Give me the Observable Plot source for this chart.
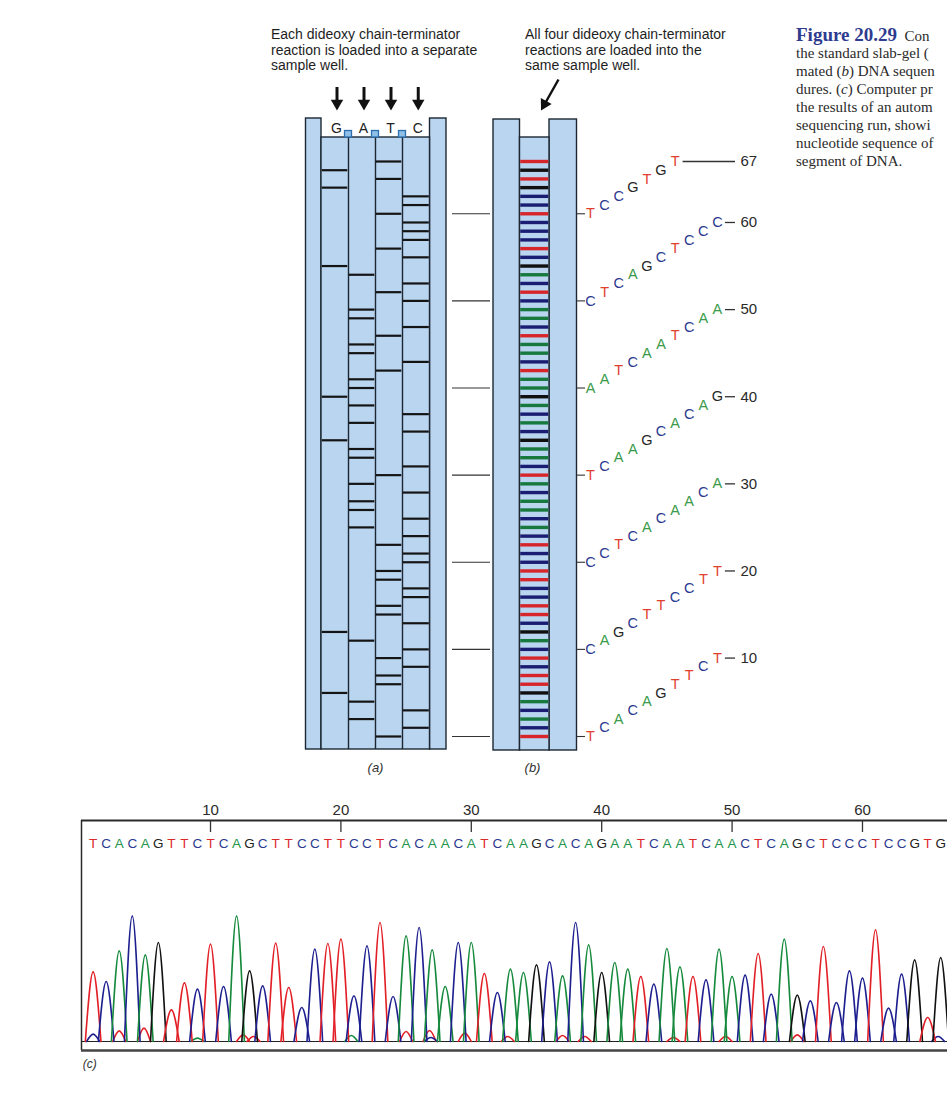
<!DOCTYPE html>
<html>
<head>
<meta charset="utf-8">
<script src="https://cdn.jsdelivr.net/npm/d3@7"></script>
<script src="https://cdn.jsdelivr.net/npm/@observablehq/plot@0.6"></script>
<style>
  html, body { margin: 0; padding: 0; background: #fff; }
  #page { position: relative; width: 947px; height: 1100px; overflow: hidden; background: #fff; }
  #gel, #chrom { position: absolute; left: 0; }
  #gel { top: 0; }
  #chrom { top: 790px; }
  .note { position: absolute; font-family: "Liberation Sans", Arial, sans-serif; font-size: 14px; line-height: 15.5px; color: #1e1e1e; white-space: nowrap; z-index: 3; }
  .cap { position: absolute; left: 796px; top: 26px; font-family: "Liberation Serif", "DejaVu Serif", serif; font-size: 15px; color: #2a2a2a; white-space: nowrap; z-index: 3; }
  .cap div { height: 18px; line-height: 18px; }
  .cap .fig { font-weight: bold; color: #2e3b8f; font-size: 19px; }
</style>
</head>
<body>
<div id="page">
  <div id="gel"></div>
  <div id="chrom"></div>
  <div class="note" style="left:271px; top:27px;">Each dideoxy chain-terminator<br>reaction is loaded into a separate<br>sample well.</div>
  <div class="note" style="left:525px; top:27px;">All four dideoxy chain-terminator<br>reactions are loaded into the<br>same sample well.</div>
  <div class="cap">
    <div><span class="fig">Figure 20.29</span>&nbsp;&nbsp;Con</div>
    <div>the standard slab-gel (</div>
    <div>mated (<i>b</i>) DNA sequen</div>
    <div>dures. (<i>c</i>) Computer pr</div>
    <div>the results of an autom</div>
    <div>sequencing run, showi</div>
    <div>nucleotide sequence of</div>
    <div>segment of DNA.</div>
  </div>
</div>
<script>
// ================= DATA =================
// nucleotide sequence read from gel (b), position 1 (bottom) to 67 (top)
const sequence = "TCACAGTTCTCAGCTTCCTTCCTCACAACATCAAGCACAGAATCAATCAACTCAGCTCCCTCCGTGT".split("");
// lanes of the slab gel (a)
const laneOrder = ["G", "A", "T", "C"];
// first and last position of each slanted letter row
const rowStarts = [1, 11, 21, 31, 41, 51, 61];
const rowEnds = [10, 20, 30, 40, 50, 60, 67];
// chromatogram (c)
const chromTicks = [10, 20, 30, 40, 50, 60];
const chromCalls = "TCACAGTTCTCAGCTTCCTTCCTCACAACATCAAGCACAGAATCAATCAACTCAGCTCCCTCCGTG".split("");
const peakHeights = [
  209, 180, 272, 377, 260, 297,  95, 176, 157, 292,
  165, 377, 212, 167, 295, 162, 102, 277, 294, 307,
  137, 287, 357, 135, 317, 342, 275, 165, 297, 297,
  204, 147, 217, 207, 230, 239, 197, 357, 290, 207,
  237, 217, 195, 172, 279, 224, 195, 185, 277, 195,
  199, 264, 142, 307, 139, 122, 285, 117, 212, 190,
  335, 100, 202, 245,  72, 252
];
// small background peaks
const minorBases     = ["C", "T", "T", "A", "T", "T", "A", "T", "T", "C", "T", "T", "T", "T", "T", "T", "T", "C"];
const minorPositions = [1.0, 3.0, 4.9, 9.0, 12.5, 13.3, 20.8, 25.0, 26.8, 26.9, 29.5, 32.8, 37.0, 38.7, 45.5, 49.5, 55.0, 65.8];
const minorHeights   = [22, 32, 40, 10, 20, 15, 18, 30, 33, 12, 25, 15, 18, 15, 12, 15, 20, 15];

// ================= STYLES / LAYOUT =================
const SANS = "'Liberation Sans', Arial, sans-serif";
const GEL_FILL = "#b9d5ef";
const FRAME = "#1c2733";
const BAND_B = {T: "#d6262b", C: "#1b1d72", A: "#17793d", G: "#101010"};
const LETTER = {T: "#e2402e", C: "#2b3990", A: "#3a9a4a", G: "#262626"};
const TRACE = {T: "#e21f26", C: "#1d1f8f", A: "#15893c", G: "#111111"};
const CALL = {T: "#dc2a2c", C: "#2b3990", A: "#23944a", G: "#222222"};

// gel y: nucleotide position -> pixel
const Y_POS1 = 736, Y_POS67 = 161;
const PXU = (Y_POS1 - Y_POS67) / 66;
const py = px => 1 + (Y_POS1 - px) / PXU;

const GA = {outerL: 305.5, spL: 321, seps: [348, 375, 402], spR: 429.5, outerR: 446, top: 118, laneTop: 137, bottom: 749};
const GB = {outerL: 493, spL: 519.5, spR: 549, outerR: 576.5, top: 119, laneTop: 137, bottom: 750};
const laneEdges = {G: [321, 348], A: [348, 375], T: [375, 402], C: [402, 429.5]};
const LETTER_X0 = 590, LETTER_DX = 14.1, NUM_X = 740;

const seqRows = sequence.map((b, i) => ({base: b, pos: i + 1, k: i % 10}));
const frameRects = [
  {x1: GA.outerL, x2: GA.spL, y1: py(GA.top), y2: py(GA.bottom)},
  {x1: GA.spR, x2: GA.outerR, y1: py(GA.top), y2: py(GA.bottom)},
  {x1: GA.spL, x2: GA.spR, y1: py(GA.laneTop), y2: py(GA.bottom)},
  {x1: GB.outerL, x2: GB.spL, y1: py(GB.top), y2: py(GB.bottom)},
  {x1: GB.spR, x2: GB.outerR, y1: py(GB.top), y2: py(GB.bottom)},
  {x1: GB.spL, x2: GB.spR, y1: py(GB.laneTop), y2: py(GB.bottom)}
];
const laneCenter = b => (laneEdges[b][0] + laneEdges[b][1]) / 2;
const arrowB = {x1: 558, y1: py(79), x2: 544.5, y2: py(103), hx: 544, hy: py(103.7)};

const gelPlot = Plot.plot({
  width: 947, height: 790, margin: 0,
  x: {type: "linear", domain: [0, 947], range: [0, 947], axis: null},
  y: {type: "linear", domain: [1, 67], range: [Y_POS1, Y_POS67], axis: null},
  color: {type: "identity"},
  style: {background: "transparent", overflow: "visible"},
  marks: [
    Plot.rect(frameRects, {x1: "x1", x2: "x2", y1: "y1", y2: "y2", fill: GEL_FILL, stroke: FRAME, strokeWidth: 1.4}),
    Plot.ruleX(GA.seps, {x: d => d, y1: py(GA.laneTop), y2: py(GA.bottom), stroke: FRAME, strokeWidth: 1.4}),
    Plot.rect(GA.seps, {x1: d => d - 3.5, x2: d => d + 3.5, y1: py(137), y2: py(130.5), fill: "#8fc0e8", stroke: "#2d6fae", strokeWidth: 1.3}),
    // gel (a) bands
    Plot.ruleY(seqRows, {y: "pos", x1: d => laneEdges[d.base][0] + 0.7, x2: d => laneEdges[d.base][1] - 0.7, stroke: "#141414", strokeWidth: 2.2}),
    // gel (b) bands
    Plot.ruleY(seqRows, {y: "pos", x1: GB.spL + 0.7, x2: GB.spR - 0.7, stroke: d => BAND_B[d.base], strokeWidth: 3.4}),
    // ticks
    Plot.ruleY(rowStarts, {y: d => d, x1: 452, x2: 490, stroke: "#333", strokeWidth: 1.1}),
    Plot.ruleY(rowStarts, {y: d => d, x1: GB.outerR, x2: 585, stroke: "#333", strokeWidth: 1.1}),
    // slanted sequence letters
    Plot.text(seqRows, {x: d => LETTER_X0 + LETTER_DX * d.k, y: "pos", text: "base", fill: d => LETTER[d.base],
      fontSize: 14.5, fontFamily: SANS, textAnchor: "middle", lineAnchor: "middle"}),
    Plot.ruleY(rowEnds, {y: d => d, x1: d => LETTER_X0 + LETTER_DX * ((d - 1) % 10) + 8, x2: NUM_X - 5, stroke: "#333", strokeWidth: 1.3}),
    Plot.text(rowEnds, {x: NUM_X, y: d => d, text: d => String(d), fill: "#2a2a2a", fontSize: 15, fontFamily: SANS, textAnchor: "start", lineAnchor: "middle"}),
    // lane labels
    Plot.text(laneOrder, {x: b => laneCenter(b) + 1.5, y: py(128), text: d => d, fill: "#222", fontSize: 14, fontFamily: SANS, lineAnchor: "middle"}),
    // arrows into wells (a)
    Plot.ruleX(laneOrder, {x: b => laneCenter(b) + 2, y1: py(87), y2: py(103), stroke: "#111", strokeWidth: 3}),
    Plot.dot(laneOrder, {x: b => laneCenter(b) + 2, y: py(102.8), symbol: "triangle", r: 4.6, fill: "#111", rotate: 180}),
    // arrow into well (b)
    Plot.link([arrowB], {x1: "x1", y1: "y1", x2: "x2", y2: "y2", stroke: "#111", strokeWidth: 2.4}),
    Plot.dot([arrowB], {x: "hx", y: "hy", symbol: "triangle", r: 4.6, fill: "#111", rotate: 209}),
    // panel labels
    Plot.text(["(a)", "(b)"], {x: (d, i) => [375, 532][i], y: py(767), text: d => d, fill: "#333", fontSize: 13, fontStyle: "italic", fontFamily: SANS, lineAnchor: "middle"})
  ]
});
document.getElementById("gel").appendChild(gelPlot);

// ================= CHROMATOGRAM =================
const CHROM_TOP = 790;            // svg top on page
const BASELINE = 1041;            // page px of zero signal
const cy = px => (BASELINE - px) * 3;   // page px -> signal units (3 units per px)
const XD = [0.107, 66.52];
const HALF = 0.6, HALF_MINOR = 0.5;

const peaks = chromCalls.map((b, i) => ({base: b, pos: i + 1, h: peakHeights[i], w: HALF}));
const minors = minorBases.map((b, i) => ({base: b, pos: minorPositions[i], h: minorHeights[i], w: HALF_MINOR}));
const traceRows = [];
[...minors, ...peaks].forEach((p, id) => {
  traceRows.push({id, base: p.base, x: p.pos - p.w, y: 0});
  traceRows.push({id, base: p.base, x: p.pos, y: p.h});
  traceRows.push({id, base: p.base, x: p.pos + p.w, y: 0});
});
const callRows = chromCalls.map((b, i) => ({base: b, pos: i + 1}));

const chromPlot = Plot.plot({
  width: 947, height: 310, margin: 0,
  x: {type: "linear", domain: XD, range: [81, 947], axis: null},
  y: {type: "linear", domain: [0, 300], range: [BASELINE - CHROM_TOP, BASELINE - CHROM_TOP - 100], axis: null},
  color: {type: "identity"},
  style: {background: "transparent", overflow: "visible"},
  marks: [
    Plot.ruleY([cy(820)], {y: d => d, x1: XD[0], x2: XD[1], stroke: "#2a2a2a", strokeWidth: 2}),
    Plot.ruleX([XD[0]], {x: d => d, y1: cy(820), y2: cy(1050), stroke: "#2a2a2a", strokeWidth: 1.5}),
    Plot.ruleY([cy(1050)], {y: d => d, x1: XD[0], x2: XD[1], stroke: "#444", strokeWidth: 2.5}),
    Plot.ruleX(chromTicks, {x: d => d, y1: cy(820), y2: cy(832), stroke: "#333", strokeWidth: 1.3}),
    Plot.text(chromTicks, {x: d => d, y: cy(810), text: d => String(d), fill: "#2a2a2a", fontSize: 15, fontFamily: SANS, lineAnchor: "middle"}),
    Plot.text(callRows, {x: "pos", y: cy(843), text: "base", fill: d => CALL[d.base], fontSize: 13.5, fontFamily: SANS, lineAnchor: "middle"}),
    Plot.ruleY([0], {y: d => d, x1: XD[0], x2: XD[1], stroke: "#222", strokeWidth: 1}),
    Plot.line(traceRows, {x: "x", y: "y", z: "id", stroke: d => TRACE[d.base], strokeWidth: 1.6, curve: "monotone-x"}),
    Plot.text(["(c)"], {x: XD[0] + 0.1, y: cy(1064), text: d => d, fill: "#333", fontSize: 12, fontStyle: "italic", fontFamily: SANS, textAnchor: "start", lineAnchor: "middle"})
  ]
});
document.getElementById("chrom").appendChild(chromPlot);
</script>
</body>
</html>
